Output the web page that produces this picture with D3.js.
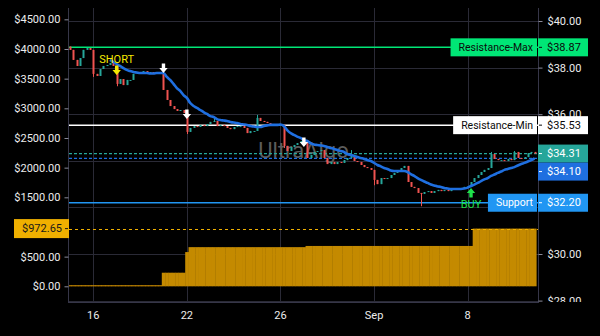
<!DOCTYPE html>
<html><head><meta charset="utf-8">
<script src="https://cdn.jsdelivr.net/npm/d3@7"></script>
<style>html,body{margin:0;padding:0;background:#000;}svg{display:block;font-family:Roboto,sans-serif;}</style>
</head><body>
<svg id="c" width="600" height="336"></svg>
<script>
// ---------- data ----------
const firstOpen = 38.90;
const closes = [
  38.76, 38.33, 38.07, 38.41, 38.76, 38.84, 38.76, 37.73, 37.64, 37.94,
  38.07, 38.11, 38.20, 38.07, 37.30, 37.51, 37.25, 37.47, 37.47, 37.73,
  37.81, 37.77, 37.85, 37.77, 37.81, 37.73, 37.81, 37.77, 37.04, 36.61,
  36.35, 36.22, 36.14, 36.18, 36.05, 35.24, 35.41, 35.49, 35.45, 35.54,
  35.49, 35.58, 35.67, 35.71, 35.49, 35.54, 35.49, 35.41, 35.36, 35.45,
  35.49, 35.49, 35.41, 35.19, 35.28, 35.28, 35.84, 35.71, 35.67, 35.62,
  35.54, 35.58, 35.54, 35.54, 34.64, 34.42, 34.59, 34.68, 34.76, 34.85,
  34.81, 34.12, 34.25, 34.38, 34.42, 34.46, 34.12, 33.86, 33.95, 33.86,
  33.95, 33.91, 34.03, 34.12, 34.20, 33.99, 33.95, 33.82, 33.73, 33.69,
  33.61, 33.18, 33.00, 33.26, 33.22, 33.26, 33.39, 33.48, 33.56, 33.69,
  33.78, 33.09, 32.88, 32.83, 32.62, 32.58, 32.66, 32.70, 32.62, 32.70,
  32.75, 32.70, 32.75, 32.70, 32.79, 32.75, 32.79, 32.83, 32.88, 32.92,
  33.09, 33.26, 33.39, 33.52, 33.61, 33.69, 34.29, 34.08, 34.03, 34.03,
  33.99, 34.08, 34.03, 34.38, 34.12, 34.08, 34.16, 34.33, 34.38, 34.31
];
const highSpikeIdx = [43, 56, 84, 126, 133];
const highSpikeVal = [35.84, 35.97, 34.46, 34.38, 34.42];
const lowSpikeIdx = [7, 14, 35, 64, 91, 105];
const lowSpikeVal = [37.60, 37.20, 35.15, 34.55, 32.95, 32.05];

const maStart = 12;
const maValues = [
  38.33, 38.24, 38.15, 38.07, 37.98, 37.90, 37.85, 37.81,
  37.79, 37.77, 37.77, 37.77, 37.75, 37.75, 37.77, 37.77, 37.77, 37.60,
  37.47, 37.30, 37.12, 37.00, 36.82, 36.70, 36.48, 36.35, 36.27, 36.18,
  36.09, 36.01, 35.92, 35.88, 35.79, 35.75, 35.73, 35.71, 35.67, 35.64,
  35.62, 35.58, 35.56, 35.54, 35.49, 35.47, 35.45, 35.45, 35.49, 35.52,
  35.54, 35.54, 35.54, 35.56, 35.49, 35.32, 35.19, 35.11, 35.04, 34.98,
  34.89, 34.85, 34.76, 34.70, 34.68, 34.66, 34.64, 34.59, 34.55, 34.51,
  34.46, 34.42, 34.38, 34.29, 34.25, 34.21, 34.16, 34.12, 34.08, 34.03,
  33.99, 33.91, 33.82, 33.76, 33.69, 33.65, 33.58, 33.56, 33.56, 33.56,
  33.56, 33.52, 33.43, 33.35, 33.26, 33.18, 33.11, 33.05, 32.98, 32.94,
  32.90, 32.88, 32.83, 32.81, 32.79, 32.79, 32.79, 32.79, 32.81, 32.85,
  32.92, 32.98, 33.05, 33.13, 33.20, 33.26, 33.35, 33.41, 33.48, 33.54,
  33.61, 33.65, 33.69, 33.73, 33.80, 33.86, 33.91, 33.97, 34.03, 34.10
];

const position = [
  0,0,0,0,0,0,0,0,0,0,
  0,0,0,0,0,0,0,0,0,0,
  0,0,0,0,0,0,0,0,229,229,
  229,229,229,229,229,577,660,660,660,660,
  660,660,660,660,660,660,660,660,660,660,
  660,660,660,660,660,660,660,660,660,660,
  660,660,660,660,660,660,660,660,660,660,
  660,680,680,680,680,680,680,680,680,680,
  680,680,680,680,680,680,680,680,680,680,
  680,680,680,680,680,680,680,680,680,680,
  680,680,680,680,680,680,680,680,680,680,
  680,680,680,680,680,680,680,680,680,680,
  680,972.65,972.65,972.65,972.65,972.65,972.65,972.65,972.65,972.65,
  972.65,972.65,972.65,972.65,972.65,972.65,972.65,972.65,972.65,972.65
];
const positionMax = 972.65;

const markerIdx = [14, 28, 35, 70, 120];
const markerPrice = [37.68, 37.77, 35.79, 34.59, 32.83];
const markerType = ['short', 'exit', 'exit', 'exit', 'buy'];
const markerText = ['SHORT', '', '', '', 'BUY'];

const levelNames = ['Resistance-Max', 'Resistance-Min', 'Support'];
const levelValues = [38.87, 35.53, 32.20];

const dateTickIdx = [7, 35, 63, 91, 119];
const dateTickLabels = ['16', '22', '26', 'Sep', '8'];
const leftTicks = [0, 500, 1000, 1500, 2000, 2500, 3000, 3500, 4000, 4500];
const rightTicks = [28, 30, 32, 34, 36, 38, 40];
const watermark = 'UltraAlgo';

// ---------- layout ----------
const paneL = 69, paneR = 538, paneT = 8, paneB = 302;
const UP = '#26a69a', DOWN = '#ef5350';
const GRID = '#2a2a36', BORDER = '#363648', TXT = '#ececec';
const boxH = 18;

const svg = d3.select('#c');
svg.append('rect').attr('width', 600).attr('height', 336).attr('fill', '#000');

const x = d3.scaleBand().domain(d3.range(closes.length)).range([68.2, 536.2]).padding(0);
const cx = i => x(i) + x.bandwidth() / 2;
const yR = d3.scaleLinear().domain([28, 40]).range([300.6, 21]);
const yL = d3.scaleLinear().domain([0, 4000]).range([286.3, 49]);

const defs = svg.append('defs');
defs.append('clipPath').attr('id', 'pane').append('rect')
  .attr('x', paneL).attr('y', paneT).attr('width', paneR - paneL).attr('height', paneB - paneT);
defs.append('clipPath').attr('id', 'raxis').append('rect')
  .attr('x', paneR).attr('y', paneT).attr('width', 62).attr('height', paneB - paneT);

// grid
const grid = svg.append('g').attr('clip-path', 'url(#pane)');
grid.selectAll('line.h').data(rightTicks).join('line')
  .attr('x1', paneL).attr('x2', paneR).attr('y1', d => Math.round(yR(d)) + 0.5).attr('y2', d => Math.round(yR(d)) + 0.5)
  .attr('stroke', GRID).attr('stroke-width', 1);
grid.selectAll('line.v').data(dateTickIdx).join('line')
  .attr('y1', paneT).attr('y2', paneB).attr('x1', d => Math.round(cx(d)) + 0.5).attr('x2', d => Math.round(cx(d)) + 0.5)
  .attr('stroke', GRID).attr('stroke-width', 1);

// watermark
svg.append('text').attr('x', (paneL + paneR) / 2).attr('y', (paneT + paneB) / 2 - 3)
  .attr('text-anchor', 'middle').attr('dominant-baseline', 'middle')
  .attr('font-size', 22).attr('fill', '#5c5c5c').text(watermark);

const pane = svg.append('g').attr('clip-path', 'url(#pane)');

// histogram (left scale)
pane.selectAll('rect.hist').data(position).join('rect')
  .attr('x', (d, i) => x(i)).attr('width', x.bandwidth() + 0.4)
  .attr('y', d => Math.min(yL(d), yL(0) - 1)).attr('height', d => Math.max(1, yL(0) - yL(d)))
  .attr('fill', (d) => d > 0 ? '#c48a00' : '#e09a00');

// position max dashed
pane.append('line').attr('x1', paneL).attr('x2', paneR)
  .attr('y1', Math.round(yL(positionMax)) + 0.5).attr('y2', Math.round(yL(positionMax)) + 0.5)
  .attr('stroke', '#f0b000').attr('stroke-width', 1).attr('stroke-dasharray', '3,3');

// level lines
const levelColors = ['#00e676', '#ffffff', '#2196f3'];
pane.selectAll('line.lvl').data(levelValues).join('line')
  .attr('x1', paneL).attr('x2', paneR).attr('y1', d => yR(d)).attr('y2', d => yR(d))
  .attr('stroke', (d, i) => levelColors[i]).attr('stroke-width', 1.5);

// last price & MA dashed
const lastPrice = closes[closes.length - 1];
const maLast = maValues[maValues.length - 1];
pane.append('line').attr('x1', paneL).attr('x2', paneR).attr('y1', yR(lastPrice)).attr('y2', yR(lastPrice))
  .attr('stroke', UP).attr('stroke-width', 1.2).attr('stroke-dasharray', '3,2');
pane.append('line').attr('x1', paneL).attr('x2', paneR).attr('y1', yR(maLast)).attr('y2', yR(maLast))
  .attr('stroke', '#1f6fe0').attr('stroke-width', 1.2).attr('stroke-dasharray', '3,2');

// candles
const candles = closes.map((c, i) => {
  const o = i === 0 ? firstOpen : closes[i - 1];
  let h = Math.max(o, c), l = Math.min(o, c);
  const hi = highSpikeIdx.indexOf(i); if (hi >= 0) h = Math.max(h, highSpikeVal[hi]);
  const li = lowSpikeIdx.indexOf(i); if (li >= 0) l = Math.min(l, lowSpikeVal[li]);
  return { i, o, c, h, l };
});
const cg = pane.append('g');
cg.selectAll('line.wick').data(candles).join('line')
  .attr('x1', d => Math.round(cx(d.i)) + 0.5).attr('x2', d => Math.round(cx(d.i)) + 0.5)
  .attr('y1', d => yR(d.h)).attr('y2', d => yR(d.l))
  .attr('stroke', d => d.c >= d.o ? UP : DOWN).attr('stroke-width', 1);
cg.selectAll('rect.body').data(candles).join('rect')
  .attr('x', d => Math.round(cx(d.i)) - 0.5).attr('width', 2)
  .attr('y', d => yR(Math.max(d.o, d.c))).attr('height', d => Math.max(1, yR(Math.min(d.o, d.c)) - yR(Math.max(d.o, d.c))))
  .attr('fill', d => d.c >= d.o ? UP : DOWN);

// MA line
const maPts = maValues.map((v, k) => ({ i: maStart + k, v }));
pane.append('path').datum(maPts)
  .attr('d', d3.line().x(d => cx(d.i)).y(d => yR(d.v)).curve(d3.curveMonotoneX))
  .attr('fill', 'none').attr('stroke', '#1f6fe0').attr('stroke-width', 2.6).attr('stroke-linejoin', 'round');

// markers
const mColors = { short: '#f5e800', exit: '#ffffff', buy: '#1ee04a' };
markerIdx.forEach((idx, k) => {
  const mx = cx(idx), ty = yR(markerPrice[k]);
  const col = mColors[markerType[k]];
  if (markerType[k] === 'buy') {
    const p = `M${mx},${ty} L${mx + 4.2},${ty + 5} L${mx + 1.7},${ty + 5} L${mx + 1.7},${ty + 9.5} L${mx - 1.7},${ty + 9.5} L${mx - 1.7},${ty + 5} L${mx - 4.2},${ty + 5} Z`;
    svg.append('path').attr('d', p).attr('fill', col);
    if (markerText[k]) svg.append('text').attr('x', mx).attr('y', ty + 20).attr('text-anchor', 'middle')
      .attr('font-size', 11).attr('fill', col).text(markerText[k]);
  } else {
    const p = `M${mx},${ty} L${mx + 4.2},${ty - 5} L${mx + 1.7},${ty - 5} L${mx + 1.7},${ty - 9.5} L${mx - 1.7},${ty - 9.5} L${mx - 1.7},${ty - 5} L${mx - 4.2},${ty - 5} Z`;
    svg.append('path').attr('d', p).attr('fill', col);
    if (markerText[k]) svg.append('text').attr('x', mx).attr('y', ty - 12).attr('text-anchor', 'middle')
      .attr('font-size', 11).attr('fill', col).text(markerText[k]);
  }
});

// borders
svg.append('line').attr('x1', paneL - 0.5).attr('x2', paneL - 0.5).attr('y1', paneT).attr('y2', paneB + 1).attr('stroke', BORDER);
svg.append('line').attr('x1', paneR + 0.5).attr('x2', paneR + 0.5).attr('y1', paneT).attr('y2', paneB + 1).attr('stroke', BORDER);
svg.append('line').attr('x1', paneL).attr('x2', paneR).attr('y1', paneB + 0.5).attr('y2', paneB + 0.5).attr('stroke', BORDER);

// right price labels: positions with collision avoidance
const rLabels = [
  { v: levelValues[0], bg: '#00e676', fg: '#0a0a0a', title: levelNames[0] },
  { v: levelValues[1], bg: '#ffffff', fg: '#0a0a0a', title: levelNames[1] },
  { v: lastPrice, bg: UP, fg: '#ffffff', title: null },
  { v: maLast, bg: '#1f6fe0', fg: '#ffffff', title: null },
  { v: levelValues[2], bg: '#2196f3', fg: '#ffffff', title: levelNames[2] }
].sort((a, b) => b.v - a.v);
let prevBottom = -Infinity;
rLabels.forEach(lb => {
  let cy = yR(lb.v);
  if (cy - boxH / 2 < prevBottom) cy = prevBottom + boxH / 2;
  prevBottom = cy + boxH / 2;
  lb.cy = cy;
});
const ly = yL(positionMax);

// axes (hide tick labels mostly covered by a label box)
const fmt = d => '$' + d3.format('.2f')(d);
const rightVisible = rightTicks.filter(t => rLabels.every(lb => Math.abs(yR(t) - lb.cy) >= boxH / 2));
const leftVisible = leftTicks.filter(t => Math.abs(yL(t) - ly) >= boxH / 2);
const la = svg.append('g').attr('transform', `translate(${paneL - 0.5},0)`)
  .call(d3.axisLeft(yL).tickValues(leftVisible).tickFormat(fmt).tickSize(4).tickPadding(4));
const ra = svg.append('g').attr('clip-path', 'url(#raxis)').append('g').attr('transform', `translate(${paneR + 0.5},0)`)
  .call(d3.axisRight(yR).tickValues(rightVisible).tickFormat(fmt).tickSize(4).tickPadding(5));
const ba = svg.append('g').attr('transform', `translate(0,${paneB})`)
  .call(d3.axisBottom(x).tickValues(dateTickIdx).tickFormat((d, k) => dateTickLabels[k]).tickSize(0).tickPadding(9));
[la, ra, ba].forEach(g => {
  g.select('.domain').remove();
  g.selectAll('text').attr('fill', TXT).attr('font-size', 11).attr('font-family', 'Roboto,sans-serif');
  g.selectAll('line').attr('stroke', '#8a8a9a');
});

// draw right label boxes
rLabels.forEach(lb => {
  const cy = lb.cy;
  const g = svg.append('g');
  g.append('rect').attr('x', paneR).attr('y', cy - boxH / 2).attr('width', 50).attr('height', boxH).attr('fill', lb.bg);
  g.append('line').attr('x1', paneR + 1).attr('x2', paneR + 4).attr('y1', cy).attr('y2', cy).attr('stroke', lb.fg);
  g.append('text').attr('x', paneR + 9).attr('y', cy).attr('dominant-baseline', 'central')
    .attr('font-size', 11).attr('fill', lb.fg).text(fmt(lb.v));
  if (lb.title) {
    const t = g.append('text').attr('y', cy).attr('dominant-baseline', 'central')
      .attr('font-size', 10.5).attr('fill', lb.fg).text(lb.title);
    const w = t.node().getComputedTextLength() + 12;
    g.insert('rect', 'text').attr('x', paneR - 1 - w).attr('y', cy - boxH / 2).attr('width', w).attr('height', boxH).attr('fill', lb.bg);
    t.attr('x', paneR - 1 - w + 8);
  }
});

// left position-max label
svg.append('rect').attr('x', 14).attr('y', ly - boxH / 2 - 0.5).attr('width', paneL - 14).attr('height', boxH + 1).attr('fill', '#f0b000');
svg.append('line').attr('x1', paneL - 4).attr('x2', paneL - 1).attr('y1', ly).attr('y2', ly).attr('stroke', '#1a1a1a');
svg.append('text').attr('x', paneL - 7).attr('y', ly).attr('text-anchor', 'end').attr('dominant-baseline', 'central')
  .attr('font-size', 11).attr('fill', '#1a1a1a').text(fmt(positionMax));
</script>
</body></html>
